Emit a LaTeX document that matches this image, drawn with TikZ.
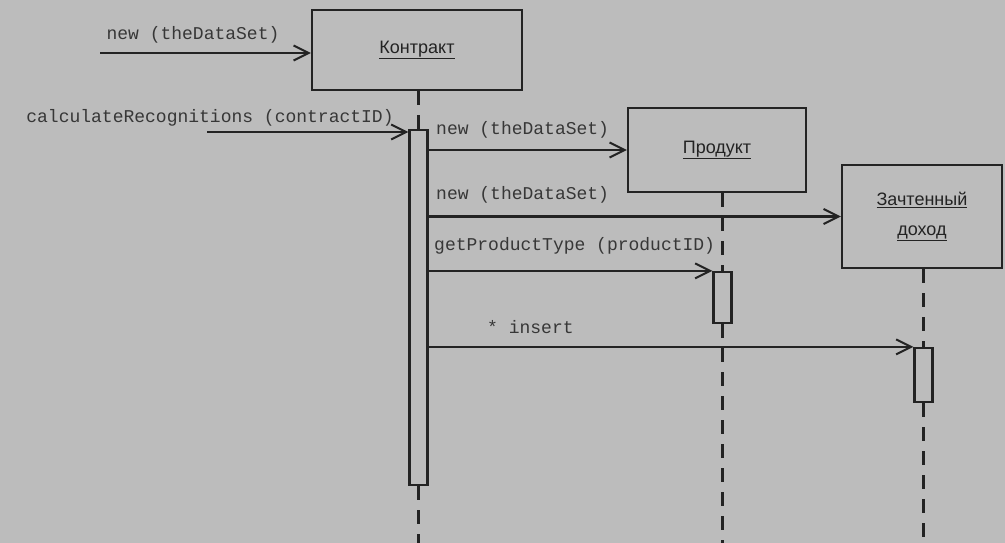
\documentclass[tikz,border=0pt]{standalone}
\usepackage{fontspec}
\setmainfont{Liberation Sans}
\setmonofont{Liberation Mono}
\usetikzlibrary{arrows.meta}
\definecolor{paper}{RGB}{188,188,188}
\definecolor{ink}{RGB}{35,35,35}
\definecolor{print}{RGB}{55,55,55}
\tikzset{
  obj/.style={draw=ink, line width=2.4pt, text=ink, font=\fontsize{18}{22}\selectfont, align=center, inner sep=0pt},
  act/.style={draw=ink, line width=2.2pt, minimum width=18pt, inner sep=0pt},
  life/.style={draw=ink, line width=2.4pt, dash pattern=on 14pt off 10pt},
  msg/.style={draw=ink, line width=2.4pt, -{Straight Barb[length=15pt,width=15pt,line width=2pt]}},
  lbl/.style={text=print, font=\ttfamily\fontsize{18}{20}\selectfont, inner sep=0pt}
}
\begin{document}
\begin{tikzpicture}[x=1pt,y=-1pt]
  \fill[paper] (0,0) rectangle (1005,543);
  \useasboundingbox (0,0) rectangle (1005,543);

  \node[obj, minimum width=210pt, minimum height=80pt] (contract) at (417,50) {\underline{Контракт}};
  \node[obj, minimum width=178pt, minimum height=84pt] (product) at (717,150) {\underline{Продукт}};
  \node[obj, minimum width=160pt, minimum height=103pt] (revenue) at (922,216.5) {\underline{Зачтенный}\\[8pt]\underline{доход}};

  \node[act, minimum height=355pt] (actC) at (418.5,307.5) {};
  \node[act, minimum height=51pt] (actP) at (722.5,297.5) {};
  \node[act, minimum height=54pt] (actR) at (923.5,375) {};

  \coordinate (endC) at (418.5,543);
  \coordinate (endP) at (722.5,543);
  \coordinate (endR) at (923.5,543);
  \coordinate (in1) at (100,53);
  \coordinate (in2) at (207,132);

  \begin{scope}[life]
    \draw (actC.north |- contract.south) -- (actC.north);
    \draw (actC.south) -- (endC);
    \draw (actP.north |- product.south) -- (actP.north);
    \draw (actP.south) -- (endP);
    \draw (actR.north |- revenue.south) -- (actR.north);
    \draw (actR.south) -- (endR);
  \end{scope}

  \begin{scope}[msg]
    \draw (in1) -- (in1 -| contract.west);
    \draw (in2) -- (in2 -| actC.west);
    \draw (actC.east |- product.west) -- (product.west);
    \draw (actC.east |- revenue.west) -- (revenue.west);
    \draw (actC.east |- actP.north) -- (actP.north west);
    \draw (actC.east |- actR.north) -- (actR.north west);
  \end{scope}

  \node[lbl] (l1) at (193,35) {new (theDataSet)};
  \node[lbl] (l2) at (210,118) {calculateRecognitions (contractID)};
  \node[lbl, anchor=west] (l3) at (436,130) {new (theDataSet)};
  \node[lbl, anchor=west] (l4) at (436,195) {new (theDataSet)};
  \node[lbl, anchor=west] (l5) at (434,246) {getProductType (productID)};
  \node[lbl, anchor=west] (l6) at (487,327) {* insert};
\end{tikzpicture}
\end{document}
